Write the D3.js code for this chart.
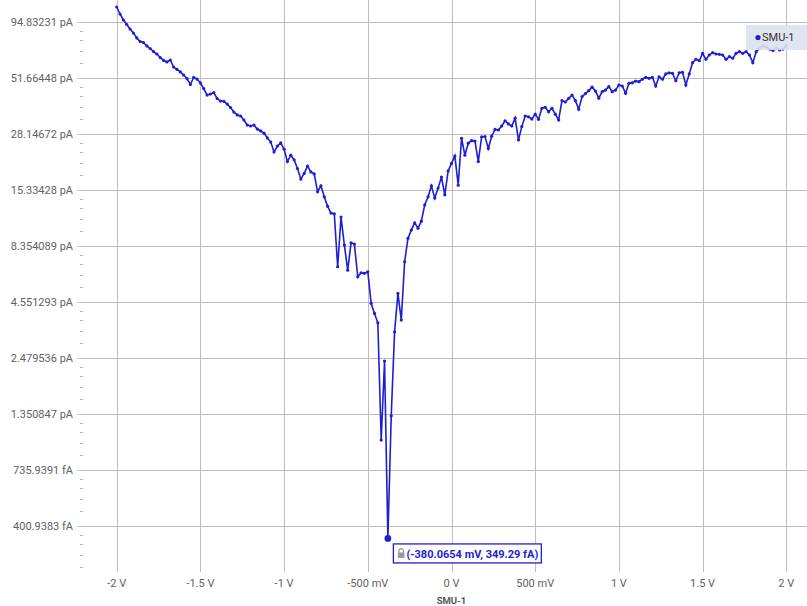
<!DOCTYPE html>
<html>
<head>
<meta charset="utf-8">
<script src="https://cdn.jsdelivr.net/npm/d3@7"></script>
<style>
  body { margin: 0; background: #fff; }
  svg { display: block; font-family: Roboto, "Noto Sans", sans-serif; }
</style>
</head>
<body>
<div id="chart"></div>
<script>
// sweep voltages (V)
const voltages = [
  -2.00,-1.98,-1.96,-1.94,-1.92,-1.90,-1.88,-1.86,-1.84,-1.82,-1.80,-1.78,-1.76,-1.74,-1.72,-1.70,-1.68,-1.66,-1.64,-1.62,
  -1.60,-1.58,-1.56,-1.54,-1.52,-1.50,-1.48,-1.46,-1.44,-1.42,-1.40,-1.38,-1.36,-1.34,-1.32,-1.30,-1.28,-1.26,-1.24,-1.22,
  -1.20,-1.18,-1.16,-1.14,-1.12,-1.10,-1.08,-1.06,-1.04,-1.02,-1.00,-0.98,-0.96,-0.94,-0.92,-0.90,-0.88,-0.86,-0.84,-0.82,
  -0.80,-0.78,-0.76,-0.74,-0.72,-0.70,-0.68,-0.66,-0.64,-0.62,-0.60,-0.58,-0.56,-0.54,-0.52,-0.50,-0.48,-0.46,-0.44,-0.42,
  -0.40,-0.3800654,-0.36,-0.34,-0.32,-0.30,-0.28,-0.26,-0.24,-0.22,-0.20,-0.18,-0.16,-0.14,-0.12,-0.10,-0.08,-0.06,-0.04,-0.02,
  0.00,0.02,0.04,0.06,0.08,0.10,0.12,0.14,0.16,0.18,0.20,0.22,0.24,0.26,0.28,0.30,0.32,0.34,0.36,0.38,
  0.40,0.42,0.44,0.46,0.48,0.50,0.52,0.54,0.56,0.58,0.60,0.62,0.64,0.66,0.68,0.70,0.72,0.74,0.76,0.78,
  0.80,0.82,0.84,0.86,0.88,0.90,0.92,0.94,0.96,0.98,1.00,1.02,1.04,1.06,1.08,1.10,1.12,1.14,1.16,1.18,
  1.20,1.22,1.24,1.26,1.28,1.30,1.32,1.34,1.36,1.38,1.40,1.42,1.44,1.46,1.48,1.50,1.52,1.54,1.56,1.58,
  1.60,1.62,1.64,1.66,1.68,1.70,1.72,1.74,1.76,1.78,1.80,1.82,1.84,1.86,1.88,1.90,1.92,1.94,1.96,1.98,
  2.00
];

// measured current of SMU-1 (pA)
const currents = [
  111.2, 103.1, 96.6, 92.0, 87.6, 83.9, 79.5, 76.5, 75.7, 72.9,
  70.9, 68.6, 66.8, 64.3, 62.3, 61.3, 62.6, 58.0, 56.5, 55.0,
  53.2, 51.2, 48.0, 51.8, 50.9, 48.8, 45.9, 42.8, 43.3, 44.0,
  41.2, 40.1, 40.0, 38.8, 37.4, 35.6, 34.5, 34.1, 32.65, 30.9,
  30.6, 30.9, 29.6, 29.0, 28.3, 26.9, 25.7, 23.1, 24.6, 25.5,
  23.8, 20.8, 22.3, 21.2, 19.3, 17.2, 18.3, 19.8, 18.6, 18.2,
  15.0, 16.0, 14.2, 12.8, 11.9, 11.8, 6.65, 11.4, 8.41, 6.41,
  8.62, 8.50, 5.96, 6.23, 6.19, 6.30, 4.47, 4.01, 3.62, 1.015,
  2.39, 0.34929, 1.32, 3.28, 4.98, 3.73, 7.02, 9.05, 9.90, 10.7,
  10.1, 10.9, 13.0, 14.2, 16.0, 14.0, 15.6, 17.6, 14.5, 18.8,
  20.4, 22.1, 16.1, 26.8, 22.3, 25.4, 26.1, 26.0, 20.8, 27.2,
  27.3, 24.0, 27.4, 29.5, 29.3, 30.6, 32.4, 31.3, 30.6, 33.3,
  26.3, 30.4, 34.1, 33.8, 33.0, 34.8, 32.9, 37.1, 37.5, 35.7,
  37.1, 34.8, 32.7, 40.3, 39.7, 41.3, 42.8, 40.3, 36.7, 42.1,
  43.5, 44.9, 46.6, 44.7, 41.4, 44.4, 45.2, 46.9, 44.4, 45.2,
  47.7, 47.2, 43.6, 48.6, 48.9, 49.8, 49.5, 50.8, 51.9, 51.3,
  51.9, 47.2, 52.2, 50.8, 53.8, 54.5, 54.2, 50.0, 54.5, 54.8,
  47.7, 53.8, 60.8, 63.1, 62.1, 67.3, 63.1, 66.1, 67.8, 66.8,
  66.6, 66.1, 63.1, 64.9, 63.8, 67.3, 68.5, 67.3, 68.5, 66.1,
  60.8, 68.5, 71.1, 72.9, 72.1, 70.5, 69.4, 71.3, 69.8, 70.5,
  72.9
];

// axis ticks
const xTicks = [-2, -1.5, -1, -0.5, 0, 0.5, 1, 1.5, 2];
const xTickLabels = ["-2 V", "-1.5 V", "-1 V", "-500 mV", "0 V", "500 mV", "1 V", "1.5 V", "2 V"];
const yTicks = [94.83231, 51.66448, 28.14672, 15.33428, 8.354089, 4.551293, 2.479536, 1.350847, 0.7359391, 0.4009383];
const yTickLabels = ["94.83231 pA", "51.66448 pA", "28.14672 pA", "15.33428 pA", "8.354089 pA",
                     "4.551293 pA", "2.479536 pA", "1.350847 pA", "735.9391 fA", "400.9383 fA"];

const seriesName = "SMU-1";
const markerText = "(-380.0654 mV, 349.29 fA)";
const markerIndex = 81;

const W = 807, H = 606;
const plotLeft = 77, plotRight = 807, plotTop = 0, plotBottom = 572;
const lineColor = "#1e1ed2";

const svg = d3.select("#chart").append("svg")
  .attr("width", W).attr("height", H);

const xScale = d3.scaleLinear().domain([-2, 2]).range([116.7, 786.3]);
const yScale = d3.scaleLog().domain([0.2427, 120]).range([plotBottom, plotTop]);

svg.append("clipPath").attr("id", "plotclip")
  .append("rect")
  .attr("x", plotLeft).attr("y", plotTop)
  .attr("width", plotRight - plotLeft).attr("height", plotBottom - plotTop);

// horizontal grid + y labels
let ygrid = svg.append("g").attr("class", "ygrid");
ygrid.selectAll("line")
  .data(yTicks)
  .enter().append("line")
  .attr("x1", plotLeft).attr("x2", plotRight)
  .attr("y1", d => Math.round(yScale(d)) + 0.5)
  .attr("y2", d => Math.round(yScale(d)) + 0.5)
  .style("stroke", "#bdbdbd").style("stroke-width", 1);

ygrid.selectAll("text")
  .data(yTicks)
  .enter().append("text")
  .attr("x", 73)
  .attr("y", d => yScale(d))
  .attr("dy", "0.35em")
  .style("text-anchor", "end")
  .style("font-size", "11px")
  .style("fill", "#616161")
  .text((d, i) => yTickLabels[i]);

// minor ticks: four linear steps below each major tick
const ratio = yTicks[0] / yTicks[1];
let minorTicks = [];
yTicks.forEach(function (m) {
  let lower = m / ratio;
  for (let k = 1; k < 5; k++) minorTicks.push(lower + k * (m - lower) / 5);
});
ygrid.selectAll("line.minor")
  .data(minorTicks)
  .enter().append("line")
  .attr("class", "minor")
  .attr("x1", 80).attr("x2", 83)
  .attr("y1", d => Math.round(yScale(d)) + 0.5)
  .attr("y2", d => Math.round(yScale(d)) + 0.5)
  .style("stroke", "#b0b0b0").style("stroke-width", 1);

// vertical grid + x labels
let xgrid = svg.append("g").attr("class", "xgrid");
xgrid.selectAll("line")
  .data(xTicks)
  .enter().append("line")
  .attr("x1", d => Math.round(xScale(d)) + 0.5)
  .attr("x2", d => Math.round(xScale(d)) + 0.5)
  .attr("y1", plotTop).attr("y2", plotBottom)
  .style("stroke", "#bdbdbd").style("stroke-width", 1);

xgrid.selectAll("text")
  .data(xTicks)
  .enter().append("text")
  .attr("x", d => xScale(d))
  .attr("y", 587)
  .style("text-anchor", "middle")
  .style("font-size", "11px")
  .style("fill", "#616161")
  .text((d, i) => xTickLabels[i]);

svg.append("text")
  .attr("x", xScale(0)).attr("y", 604)
  .style("text-anchor", "middle")
  .style("font-size", "9.5px")
  .style("font-weight", "bold")
  .style("fill", "#555")
  .text(seriesName);

// series line with point markers
const data = voltages.map((v, i) => ({ v: v, c: currents[i] }));
let plot = svg.append("g").attr("clip-path", "url(#plotclip)");

plot.append("path")
  .datum(data)
  .attr("d", d3.line().x(d => xScale(d.v)).y(d => yScale(d.c)))
  .style("fill", "none")
  .style("stroke", lineColor)
  .style("stroke-width", 1.6);

plot.selectAll("circle.pt")
  .data(data)
  .enter().append("circle")
  .attr("class", "pt")
  .attr("cx", d => xScale(d.v))
  .attr("cy", d => yScale(d.c))
  .attr("r", 1.6)
  .style("fill", lineColor);

// locked marker on the minimum
let m = data[markerIndex];
let mx = xScale(m.v), my = yScale(m.c);
svg.append("circle")
  .attr("cx", mx).attr("cy", my).attr("r", 3.4)
  .style("fill", lineColor);

let tip = svg.append("g").attr("transform", "translate(" + (mx + 5.5) + "," + (my + 5.5) + ")");
let tipText = tip.append("text")
  .attr("x", 13).attr("y", 14)
  .style("font-size", "11px")
  .style("font-weight", "bold")
  .style("fill", lineColor)
  .text(markerText);
let tw = tipText.node().getComputedTextLength();
tip.insert("rect", "text")
  .attr("x", 0).attr("y", 0)
  .attr("width", tw + 16).attr("height", 19)
  .style("fill", "#fff")
  .style("stroke", lineColor)
  .style("stroke-width", 1.3);
// lock icon
tip.append("path")
  .attr("d", "M5.6,8.5 v-1.6 a2.2,2.2 0 0 1 4.4,0 v1.6")
  .style("fill", "none").style("stroke", "#999").style("stroke-width", 1.2);
tip.append("rect")
  .attr("x", 4.5).attr("y", 8.5).attr("width", 6.6).attr("height", 5.5)
  .style("fill", "#999");

// legend
let legend = svg.append("g").attr("class", "legend");
legend.append("rect")
  .attr("x", 746).attr("y", 25).attr("width", 61).attr("height", 25)
  .style("fill", "#dce2f0").style("opacity", 0.9);
legend.append("circle")
  .attr("cx", 758).attr("cy", 37.5).attr("r", 2.6)
  .style("fill", lineColor);
legend.append("text")
  .attr("x", 762).attr("y", 37.5)
  .attr("dy", "0.35em")
  .style("font-size", "11px")
  .style("fill", "#333")
  .text(seriesName);
</script>
</body>
</html>
